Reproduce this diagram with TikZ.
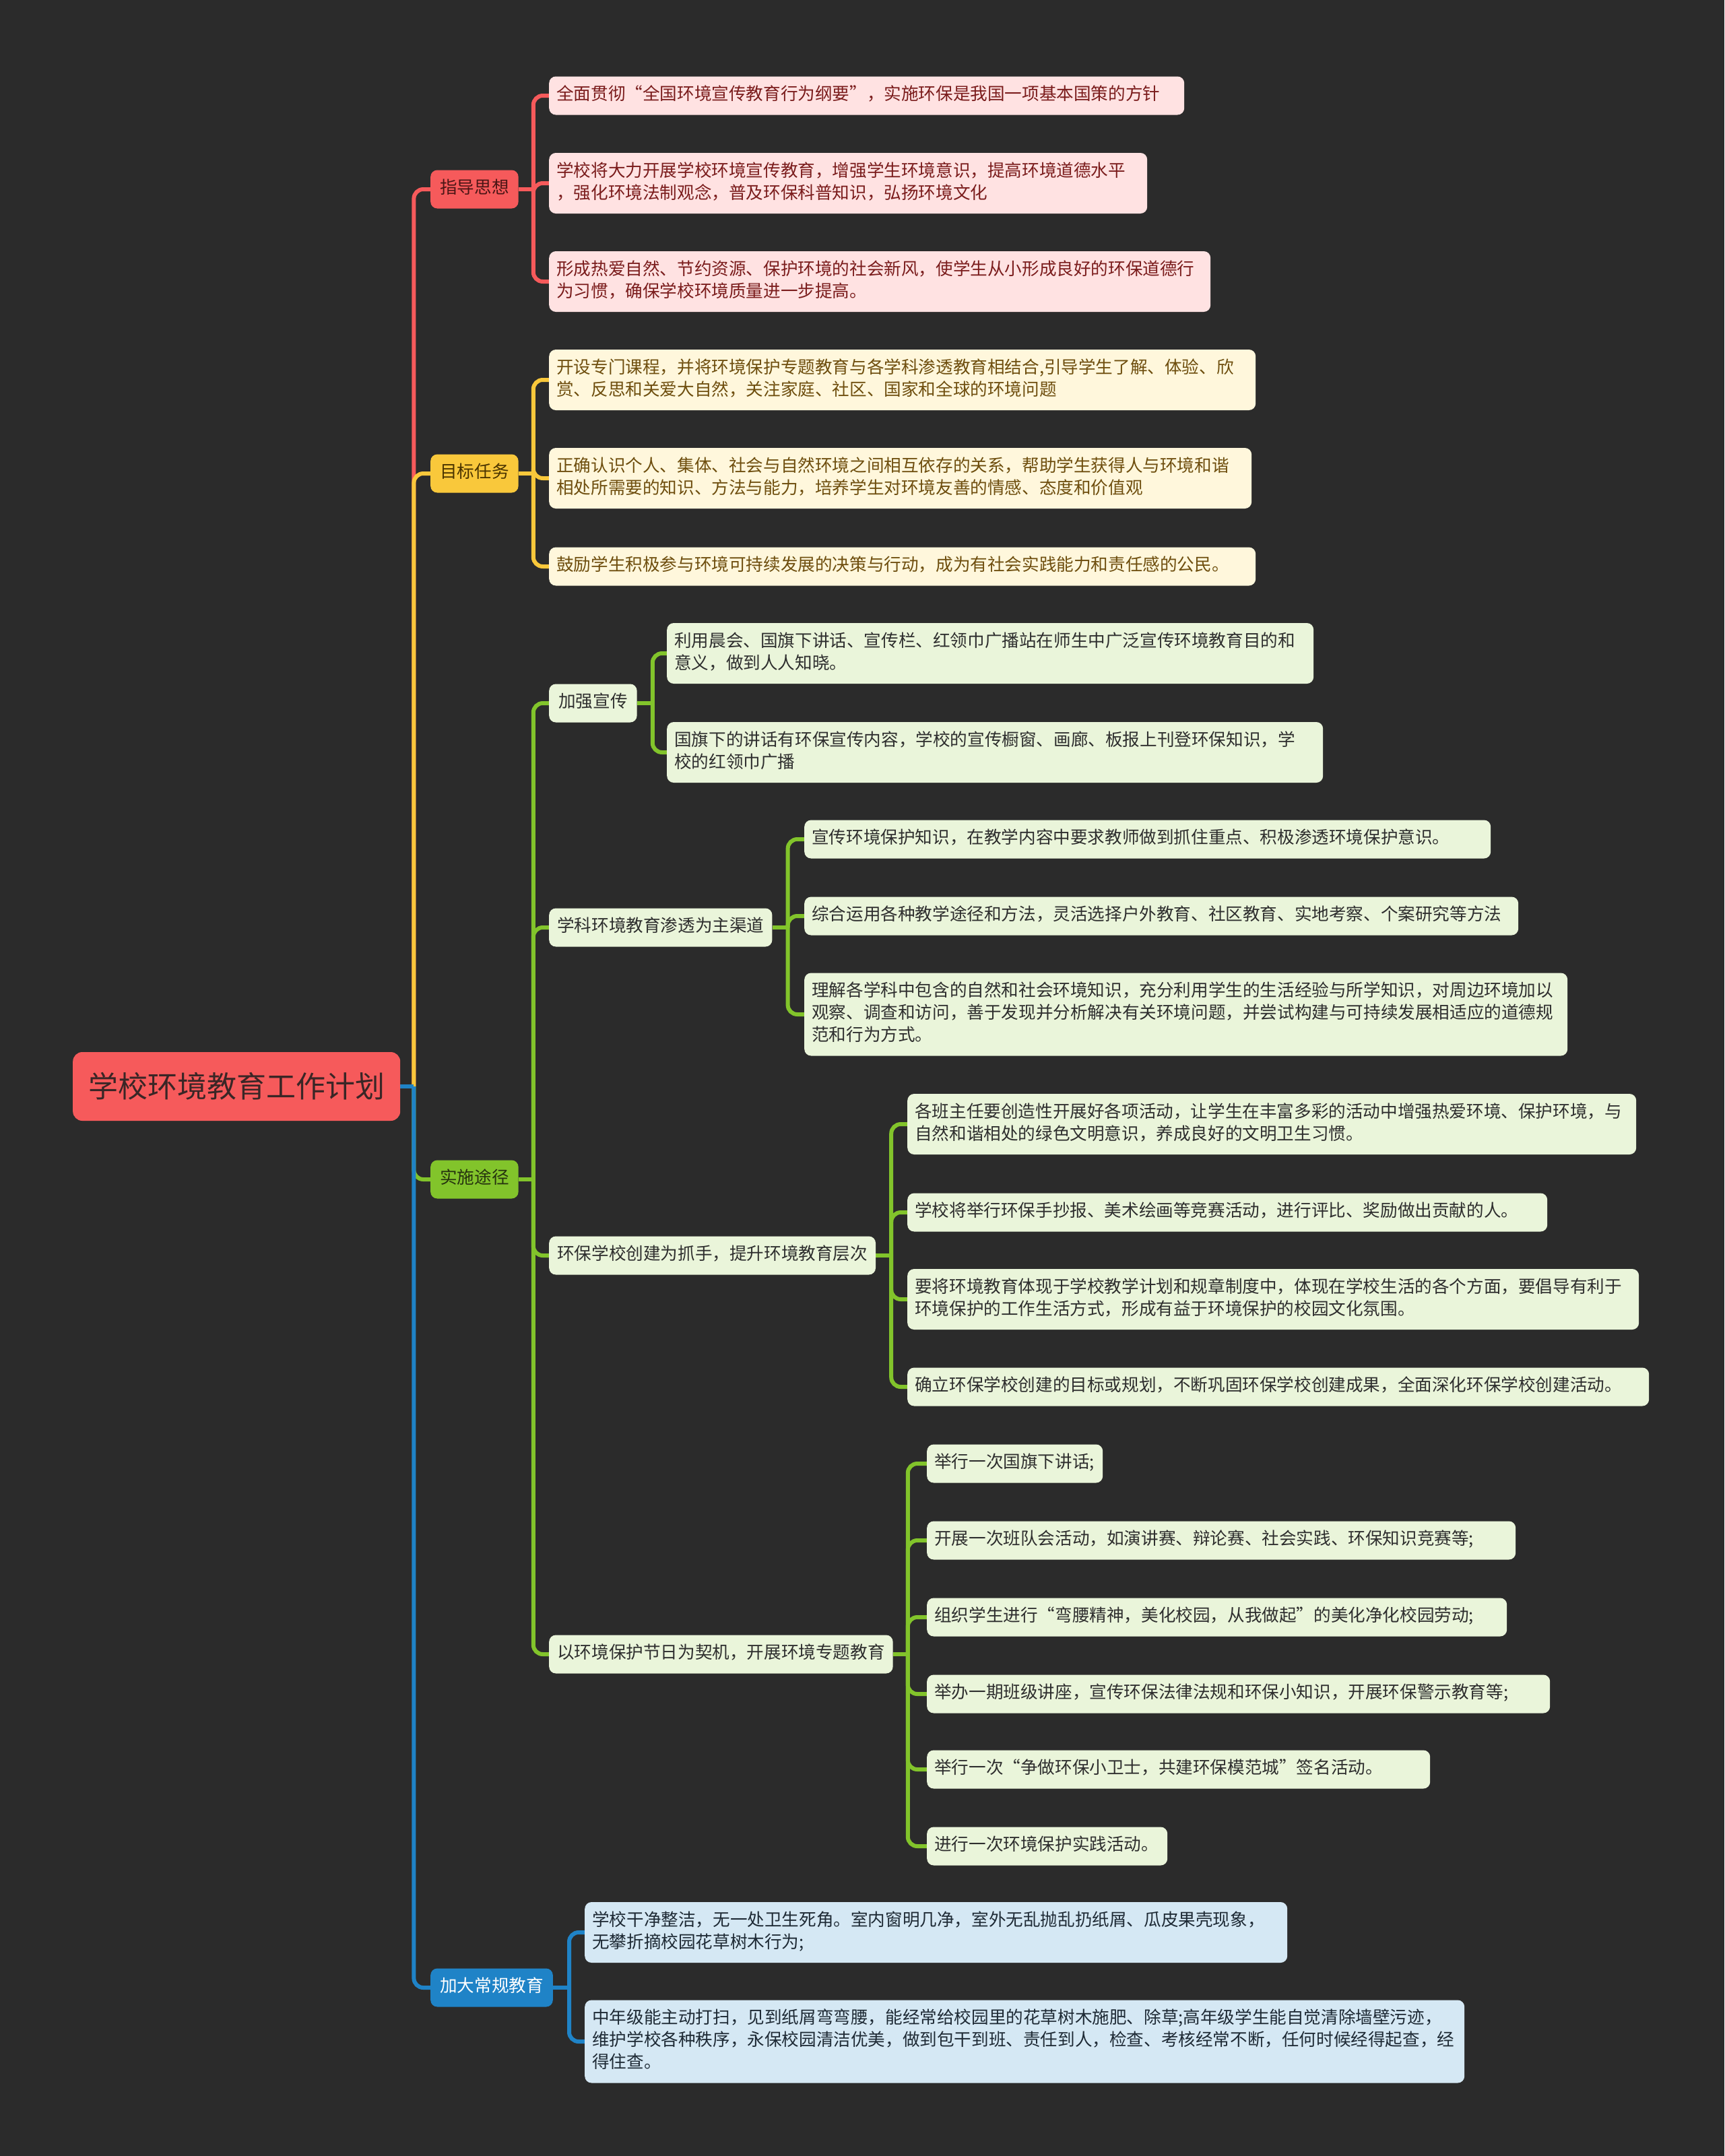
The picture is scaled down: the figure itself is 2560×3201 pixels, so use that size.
\documentclass[tikz,border=0pt]{standalone}
\usepackage{fontspec}
\setmainfont{Noto Sans CJK SC}
\usetikzlibrary{backgrounds}
\definecolor{bg}{HTML}{2B2B2B}
\definecolor{cred}{HTML}{F65A5B}
\definecolor{cyel}{HTML}{F9C83B}
\definecolor{cgrn}{HTML}{82C42B}
\definecolor{cblu}{HTML}{1F83C7}
\definecolor{pinkfill}{HTML}{FFE2E2}
\definecolor{pinktext}{HTML}{7A1C1C}
\definecolor{yelfill}{HTML}{FFF7DC}
\definecolor{yeltext}{HTML}{6E4E0E}
\definecolor{grnfill}{HTML}{EAF5DA}
\definecolor{grntext}{HTML}{2E2E2E}
\definecolor{blufill}{HTML}{D5E8F4}
\definecolor{blutext}{HTML}{1E2A35}
\definecolor{roottext}{HTML}{3A2626}
\definecolor{redltext}{HTML}{4A1515}
\definecolor{yelltext}{HTML}{4A3400}
\definecolor{grnltext}{HTML}{26330F}
\tikzset{
  conn/.style={line width=6pt, rounded corners=14pt},
  basebox/.style={rounded corners=10pt, inner ysep=12pt, anchor=west,
    font=\fontsize{25.6pt}{33pt}\selectfont,
    execute at begin node=\strut, execute at end node=\strut},
  leaf/.style={basebox, inner xsep=11pt, align=left},
  lone/.style={basebox, inner xsep=14pt},
  pinkleaf/.style={leaf, fill=pinkfill, text=pinktext},
  yelleaf/.style={leaf, fill=yelfill, text=yeltext},
  grnleaf/.style={leaf, fill=grnfill, text=grntext},
  bluleaf/.style={leaf, fill=blufill, text=blutext},
  rootbox/.style={rounded corners=14pt, fill=cred, text=roottext, anchor=west,
    inner xsep=23pt, minimum height=102pt, font=\fontsize{44pt}{52pt}\selectfont}
}
\begin{document}
\begin{tikzpicture}[x=1pt,y=-1pt]
\useasboundingbox (0,0) rectangle (2560,3201);

% root
\node[rootbox] (root) at (108,1613) {学校环境教育工作计划};

\begin{scope}[yshift=-3pt]
% level 1
\node[lone, fill=cred, text=redltext] (A) at (639,278) {指导思想};
\node[lone, fill=cyel, text=yelltext] (B) at (639,700) {目标任务};
\node[lone, fill=cgrn, text=grnltext] (C) at (639,1748) {实施途径};
\node[lone, fill=cblu, text=white] (D) at (639,2948) {加大常规教育};

% 指导思想
\node[pinkleaf, text width=921pt] (r1) at (815,139) {全面贯彻“全国环境宣传教育行为纲要”，实施环保是我国一项基本国策的方针};
\node[pinkleaf, text width=866pt] (r2) at (815,269) {学校将大力开展学校环境宣传教育，增强学生环境意识，提高环境道德水平\\，强化环境法制观念，普及环保科普知识，弘扬环境文化};
\node[pinkleaf, text width=960pt] (r3) at (815,415) {形成热爱自然、节约资源、保护环境的社会新风，使学生从小形成良好的环保道德行\\为习惯，确保学校环境质量进一步提高。};

% 目标任务
\node[yelleaf, text width=1027pt] (y1) at (815,561) {开设专门课程，并将环境保护专题教育与各学科渗透教育相结合,引导学生了解、体验、欣\\赏、反思和关爱大自然，关注家庭、社区、国家和全球的环境问题};
\node[yelleaf, text width=1021pt] (y2) at (815,707) {正确认识个人、集体、社会与自然环境之间相互依存的关系，帮助学生获得人与环境和谐\\相处所需要的知识、方法与能力，培养学生对环境友善的情感、态度和价值观};
\node[yelleaf, text width=1027pt] (y3) at (815,838) {鼓励学生积极参与环境可持续发展的决策与行动，成为有社会实践能力和责任感的公民。};

% 实施途径 level 2
\node[lone, fill=grnfill, text=grntext] (g1) at (815,1041) {加强宣传};
\node[lone, fill=grnfill, text=grntext, inner xsep=12pt] (g2) at (815,1374) {学科环境教育渗透为主渠道};
\node[lone, fill=grnfill, text=grntext, inner xsep=12pt] (g3) at (815,1861) {环保学校创建为抓手，提升环境教育层次};
\node[lone, fill=grnfill, text=grntext, inner xsep=12pt] (g4) at (815,2453) {以环境保护节日为契机，开展环境专题教育};

% g1 children
\node[grnleaf, text width=938pt] (g1a) at (990,967) {利用晨会、国旗下讲话、宣传栏、红领巾广播站在师生中广泛宣传环境教育目的和\\意义，做到人人知晓。};
\node[grnleaf, text width=952pt] (g1b) at (990,1114) {国旗下的讲话有环保宣传内容，学校的宣传橱窗、画廊、板报上刊登环保知识，学\\校的红领巾广播};

% g2 children
\node[grnleaf, text width=997pt] (g2a) at (1194,1243) {宣传环境保护知识，在教学内容中要求教师做到抓住重点、积极渗透环境保护意识。};
\node[grnleaf, text width=1038pt] (g2b) at (1194,1357) {综合运用各种教学途径和方法，灵活选择户外教育、社区教育、实地考察、个案研究等方法};
\node[grnleaf, text width=1111pt] (g2c) at (1194,1503) {理解各学科中包含的自然和社会环境知识，充分利用学生的生活经验与所学知识，对周边环境加以\\观察、调查和访问，善于发现并分析解决有关环境问题，并尝试构建与可持续发展相适应的道德规\\范和行为方式。};

% g3 children
\node[grnleaf, text width=1060pt] (g3a) at (1347,1666) {各班主任要创造性开展好各项活动，让学生在丰富多彩的活动中增强热爱环境、保护环境，与\\自然和谐相处的绿色文明意识，养成良好的文明卫生习惯。};
\node[grnleaf, text width=928pt] (g3b) at (1347,1797) {学校将举行环保手抄报、美术绘画等竞赛活动，进行评比、奖励做出贡献的人。};
\node[grnleaf, text width=1064pt] (g3c) at (1347,1926) {要将环境教育体现于学校教学计划和规章制度中，体现在学校生活的各个方面，要倡导有利于\\环境保护的工作生活方式，形成有益于环境保护的校园文化氛围。};
\node[grnleaf, text width=1079pt] (g3d) at (1347,2056) {确立环保学校创建的目标或规划，不断巩固环保学校创建成果，全面深化环保学校创建活动。};

% g4 children
\node[grnleaf, text width=239pt] (g4a) at (1376,2170) {举行一次国旗下讲话;};
\node[grnleaf, text width=852pt] (g4b) at (1376,2284) {开展一次班队会活动，如演讲赛、辩论赛、社会实践、环保知识竞赛等;};
\node[grnleaf, text width=839pt] (g4c) at (1376,2398) {组织学生进行“弯腰精神，美化校园，从我做起”的美化净化校园劳动;};
\node[grnleaf, text width=903pt] (g4d) at (1376,2512) {举办一期班级讲座，宣传环保法律法规和环保小知识，开展环保警示教育等;};
\node[grnleaf, text width=725pt] (g4e) at (1376,2624) {举行一次“争做环保小卫士，共建环保模范城”签名活动。};
\node[grnleaf, text width=335pt] (g4f) at (1376,2738) {进行一次环境保护实践活动。};

% 加大常规教育
\node[bluleaf, text width=1021pt] (b1) at (868,2866) {学校干净整洁，无一处卫生死角。室内窗明几净，室外无乱抛乱扔纸屑、瓜皮果壳现象，\\无攀折摘校园花草树木行为;};
\node[bluleaf, text width=1284pt] (b2) at (868,3028) {中年级能主动打扫，见到纸屑弯弯腰，能经常给校园里的花草树木施肥、除草;高年级学生能自觉清除墙壁污迹，\\维护学校各种秩序，永保校园清洁优美，做到包干到班、责任到人，检查、考核经常不断，任何时候经得起查，经\\得住查。};
\end{scope}

% junction coordinates
\coordinate (t0) at ([xshift=20pt]root.east);
\coordinate (tA) at ([xshift=22pt]A.east);
\coordinate (tB) at ([xshift=22pt]B.east);
\coordinate (tC) at ([xshift=22pt]C.east);
\coordinate (tD) at ([xshift=24pt]D.east);
\coordinate (t1) at ([xshift=23pt]g1.east);
\coordinate (t2) at ([xshift=23pt]g2.east);
\coordinate (t3) at ([xshift=23pt]g3.east);
\coordinate (t4) at ([xshift=22pt]g4.east);

\begin{pgfonlayer}{background}
\fill[bg] (0,0) rectangle (2560,3201);
% trunk
\draw[conn, cred] (t0) |- (A.west);
\draw[conn, cyel] (t0) |- (B.west);
\draw[conn, cgrn] (t0) |- (C.west);
\draw[conn, cblu] (t0) |- (D.west);
\draw[conn, cblu] (root.east) -- (t0);
% 指导思想
\draw[conn, cred] (A.east) -- (tA);
\foreach \n in {r1,r2,r3} \draw[conn, cred] (tA) |- (\n.west);
% 目标任务
\draw[conn, cyel] (B.east) -- (tB);
\foreach \n in {y1,y2,y3} \draw[conn, cyel] (tB) |- (\n.west);
% 实施途径
\draw[conn, cgrn] (C.east) -- (tC);
\foreach \n in {g1,g2,g3,g4} \draw[conn, cgrn] (tC) |- (\n.west);
\draw[conn, cgrn] (g1.east) -- (t1);
\foreach \n in {g1a,g1b} \draw[conn, cgrn] (t1) |- (\n.west);
\draw[conn, cgrn] (g2.east) -- (t2);
\foreach \n in {g2a,g2b,g2c} \draw[conn, cgrn] (t2) |- (\n.west);
\draw[conn, cgrn] (g3.east) -- (t3);
\foreach \n in {g3a,g3b,g3c,g3d} \draw[conn, cgrn] (t3) |- (\n.west);
\draw[conn, cgrn] (g4.east) -- (t4);
\foreach \n in {g4a,g4b,g4c,g4d,g4e,g4f} \draw[conn, cgrn] (t4) |- (\n.west);
% 加大常规教育
\draw[conn, cblu] (D.east) -- (tD);
\foreach \n in {b1,b2} \draw[conn, cblu] (tD) |- (\n.west);
\end{pgfonlayer}
\end{tikzpicture}
\end{document}
